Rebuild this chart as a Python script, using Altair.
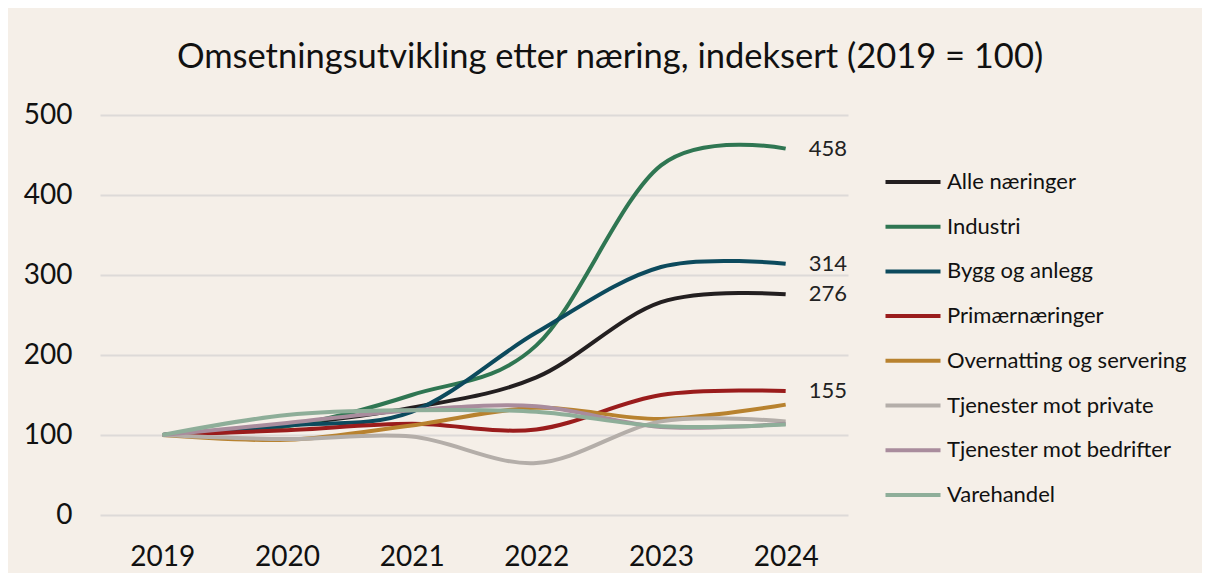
import altair as alt
import pandas as pd

years = ["2019", "2020", "2021", "2022", "2023", "2024"]
series = [
    "Alle næringer",
    "Industri",
    "Bygg og anlegg",
    "Primærnæringer",
    "Overnatting og servering",
    "Tjenester mot private",
    "Tjenester mot bedrifter",
    "Varehandel",
]
alle = [100, 113, 134, 172, 266, 276]
industri = [100, 111, 150, 212, 437, 458]
bygg = [100, 112, 129, 228, 310, 314]
primaer = [100, 106, 114, 107, 150, 155]
overnatting = [100, 94, 112, 134, 120, 138]
tj_private = [100, 95, 98, 65, 117, 117]
tj_bedrifter = [100, 115, 131, 136, 110, 114]
varehandel = [100, 125, 131, 129, 111, 113]
colors = ["#231F20", "#2F7652", "#0C4A5D", "#9A1C1C", "#B8822F", "#B4AEA9", "#A98C9D", "#8EAE99"]

labelled = ["Industri", "Bygg og anlegg", "Alle næringer", "Primærnæringer"]
label_texts = ["458", "314", "276", "155"]

values = [alle, industri, bygg, primaer, overnatting, tj_private, tj_bedrifter, varehandel]
rows = []
for si, (name, vals) in enumerate(zip(series, values)):
    for y, v in zip(years, vals):
        rows.append({"Næring": name, "År": y, "Indeks": v, "order": si})
df = pd.DataFrame(rows)

lab_rows = []
for name, t in zip(labelled, label_texts):
    v = values[series.index(name)][-1]
    lab_rows.append({"Næring": name, "År": years[-1], "Indeks": v, "tekst": t})
lab_df = pd.DataFrame(lab_rows)

FONT = "Lato"

x = alt.X("År:O", scale=alt.Scale(type="point", padding=0.5, domain=years),
          axis=alt.Axis(title=None, labelAngle=0, domain=False, ticks=False, grid=False,
                        labelFontSize=28, labelPadding=28, labelColor="#111111", labelFont=FONT))
y = alt.Y("Indeks:Q", scale=alt.Scale(domain=[0, 500], nice=False),
          axis=alt.Axis(title=None, values=[0, 100, 200, 300, 400, 500], domain=False, ticks=False,
                        grid=True, gridColor="#DDDAD8", gridWidth=2,
                        labelFontSize=28, labelPadding=28, labelColor="#111111", labelFont=FONT))

color = alt.Color("Næring:N", scale=alt.Scale(domain=series, range=colors),
                  legend=alt.Legend(title=None, orient="none", legendX=800, legendY=54,
                                    symbolType="M-2.5,0L2.5,0", symbolSize=484, symbolStrokeWidth=4,
                                    labelFontSize=22, labelFont=FONT, labelColor="#111111",
                                    labelLimit=0, labelOffset=21, rowPadding=20.7))

lines = alt.Chart(df).mark_line(interpolate="cardinal", tension=0, strokeWidth=4).encode(
    x=x, y=y, color=color, order=alt.Order("order:Q"), detail="Næring:N"
)

labels = alt.Chart(lab_df).mark_text(align="left", baseline="middle", dx=23, fontSize=22,
                                     font=FONT, color="#222222").encode(
    x=alt.X("År:O", scale=alt.Scale(type="point", padding=0.5, domain=years)),
    y=alt.Y("Indeks:Q", scale=alt.Scale(domain=[0, 500], nice=False)),
    text="tekst:N",
)

chart = alt.layer(lines, labels).properties(
    width=748, height=400,
    title=alt.Title("Omsetningsutvikling etter næring, indeksert (2019 = 100)",
                    fontSize=34.5, font=FONT, fontWeight="normal", color="#111111",
                    anchor="middle", frame="group", dx=136, offset=26),
    background="#F5EFE8",
    padding={"left": 92, "top": 107, "right": 354, "bottom": 58},
    autosize=alt.AutoSizeParams(type="none"),
).configure_view(stroke=None)

chart.save("out.html", embed_options={"renderer": "svg", "actions": False})
